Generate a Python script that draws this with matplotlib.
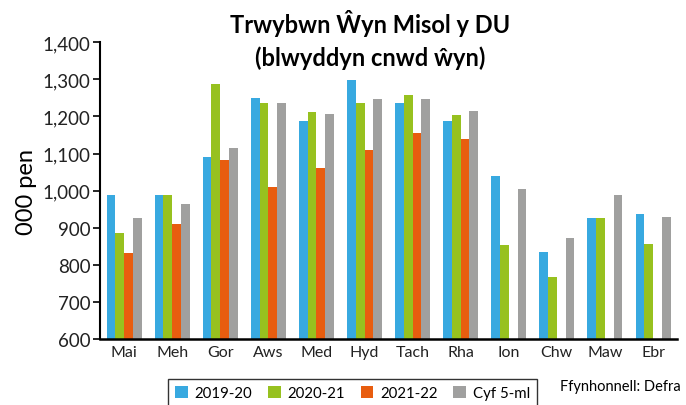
import matplotlib
matplotlib.use("Agg")
import matplotlib.pyplot as plt
import numpy as np

plt.rcParams['font.family'] = ['Lato', 'DejaVu Sans']

months = ["Mai", "Meh", "Gor", "Aws", "Med", "Hyd", "Tach", "Rha", "Ion", "Chw", "Maw", "Ebr"]
y2019_20 = [988, 988, 1091, 1250, 1188, 1298, 1236, 1188, 1040, 835, 926, 937]
y2020_21 = [886, 988, 1288, 1236, 1212, 1236, 1258, 1204, 854, 767, 926, 856]
y2021_22 = [832, 910, 1083, 1010, 1061, 1110, 1155, 1139, np.nan, np.nan, np.nan, np.nan]
avg5 = [926, 964, 1115, 1236, 1207, 1247, 1247, 1215, 1005, 872, 988, 929]
series_labels = ["2019-20", "2020-21", "2021-22", "Cyf 5-ml"]
yticks = [600, 700, 800, 900, 1000, 1100, 1200, 1300, 1400]
title_lines = ["Trwybwn Ŵyn Misol y DU", "(blwyddyn cnwd ŵyn)"]

colors = ["#38A9E0", "#97C11F", "#E85D0F", "#A0A09F"]

fig = plt.figure(figsize=(6.86, 4.06), dpi=100)
ax = fig.add_axes([0.1458, 0.1626, 0.987 - 0.1458, 0.8933 - 0.1626])

x = np.arange(len(months))
w = 0.182
series = [y2019_20, y2020_21, y2021_22, avg5]
for i, (vals, lab, c) in enumerate(zip(series, series_labels, colors)):
    ax.bar(x + (i - 1.5) * w, vals, width=w, color=c, label=lab, zorder=2)

ax.set_xlim(-0.5, len(months) - 0.5)
ax.set_ylim(600, 1400)
ax.set_yticks(yticks)
ax.set_yticklabels([f"{v:,}" for v in yticks], fontsize=13.5, color="#222222")
ax.set_xticks(x)
ax.set_xticklabels(months, fontsize=11.5, color="#222222")
ax.tick_params(axis='x', length=0, pad=4)
ax.tick_params(axis='y', length=5, width=1.2, direction='out', pad=2)
for s in ["top", "right"]:
    ax.spines[s].set_visible(False)
ax.spines["left"].set_linewidth(1.5)
ax.spines["bottom"].set_linewidth(1.8)
ax.set_ylabel("000 pen", fontsize=17)
ax.yaxis.set_label_coords(-0.109, 0.5)

fig.text(0.539, 1 - 33 / 406, title_lines[0], ha="center", va="baseline",
         fontsize=17, fontweight="bold")
fig.text(0.539, 1 - 66 / 406, title_lines[1], ha="center", va="baseline",
         fontsize=17, fontweight="bold")

leg = fig.legend(loc="upper left", bbox_to_anchor=(168 / 686, 1 - 380 / 406), ncol=4,
                 fontsize=10.8, frameon=True, fancybox=False, edgecolor="black",
                 handlelength=0.85, handleheight=0.85, handletextpad=0.45, columnspacing=1.05,
                 borderpad=0.45, borderaxespad=0)
leg.get_frame().set_linewidth(1.0)

fig.text(560 / 686, 1 - 387 / 406, "Ffynhonnell: Defra", ha="left", va="center", fontsize=10.5)

fig.savefig("out.png", dpi=100)
